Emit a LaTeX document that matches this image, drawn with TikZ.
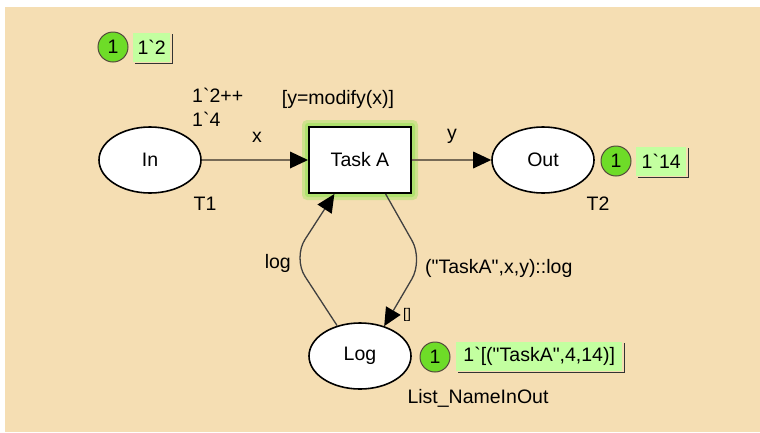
\documentclass[tikz,border=0pt]{standalone}
\usepackage{fontspec}
\setmainfont{Liberation Sans}[Ligatures=TeXOff]
\usetikzlibrary{arrows.meta,calc,shapes.geometric}
\definecolor{bgwheat}{RGB}{245,222,179}
\definecolor{arcgray}{RGB}{118,106,86}
\definecolor{tokgreen}{RGB}{110,220,40}
\definecolor{boxgreen}{RGB}{195,255,160}
\definecolor{glow}{RGB}{175,225,110}
\tikzset{
  txt/.style={font=\fontsize{19.5}{22}\selectfont, inner sep=0pt},
  place/.style={ellipse, draw=black, line width=1.6pt, fill=white, minimum width=102pt, minimum height=66pt, txt},
  trans/.style={rectangle, draw=black, line width=2pt, fill=white, minimum width=102pt, minimum height=66pt, txt},
  arcline/.style={draw=arcgray, line width=2.4pt, -{Triangle[length=18pt,width=17pt,fill=black,color=black,line width=0pt]}},
  curvearc/.style={arcline, draw=black!75, line width=1.3pt},
  tok/.style={circle, draw=arcgray!70!black, line width=1pt, fill=tokgreen, minimum size=30pt, txt},
  tokbox/.style={rectangle, fill=boxgreen, anchor=west, minimum height=29pt, inner xsep=3pt, txt},
  boxshadow/.style={draw=black!80, line width=1.2pt},
  lbl/.style={txt}
}
\begin{document}
\begin{tikzpicture}[x=1pt,y=-1pt]
\useasboundingbox (0,0) rectangle (760,432);
\fill[bgwheat] (5,7) rectangle (760,432);

% glow
\fill[glow!55!bgwheat, rounded corners=5pt] (302,120) rectangle (418,200);
\fill[glow, rounded corners=3pt] (305,123) rectangle (415,197);
\node[trans] (task) at (360,160) {Task A};

\node[place] (in) at (150,160) {In};
\node[place] (out) at (543,160) {Out};
\node[place] (log) at (360,356) {Log};

% arcs
\draw[arcline] (in.east) -- (task.west);
\draw[arcline] (task.east) -- (out.west);
\coordinate (cl) at (293,258);
\coordinate (cr) at (423,260);
\draw[curvearc, rounded corners=22pt] (log.127) -- (cl) -- (task.-127);
\draw[curvearc, rounded corners=22pt] (task.-53) -- (cr) -- (log.51);

% labels
\node[lbl] (lx) at (257,137) {x};
\node[lbl] (ly) at (452,136) {y};
\node[lbl] (t1) at (205,204) {T1};
\node[lbl] (t2) at (598,204) {T2};
\node[lbl, anchor=east] (llog) at (291,263) {log};
\node[lbl, anchor=west] (lout) at (425,268) {("TaskA",x,y)::log};
\node[lbl, font=\fontsize{14}{16}\selectfont] (lempty) at (407,315) {[]};
\node[lbl] (ls) at (478,398) {List\_NameInOut};
\node[lbl, anchor=west] (init1) at (192,95) {1`2++};
\node[lbl, anchor=west] (init2) at (192,119) {1`4};
\node[lbl] (guard) at (338,99) {[y=modify(x)]};

% tokens
\node[tok] (k1) at (113,47) {1};
\node[tokbox, minimum width=37pt] (b1) at (133,47) {1`2};
\draw[boxshadow] ([xshift=2pt,yshift=-2pt]b1.south west) -- ([xshift=2pt,yshift=-2pt]b1.south east) -- ([xshift=2pt,yshift=-2pt]b1.north east);

\node[tok] (k2) at (616,161) {1};
\node[tokbox, minimum width=50pt] (b2) at (636,161) {1`14};
\draw[boxshadow] ([xshift=2pt,yshift=-2pt]b2.south west) -- ([xshift=2pt,yshift=-2pt]b2.south east) -- ([xshift=2pt,yshift=-2pt]b2.north east);

\node[tok] (k3) at (435,357) {1};
\node[tokbox, minimum width=166pt] (b3) at (456,356) {1`[("TaskA",4,14)]};
\draw[boxshadow] ([xshift=2pt,yshift=-2pt]b3.south west) -- ([xshift=2pt,yshift=-2pt]b3.south east) -- ([xshift=2pt,yshift=-2pt]b3.north east);
\end{tikzpicture}
\end{document}
